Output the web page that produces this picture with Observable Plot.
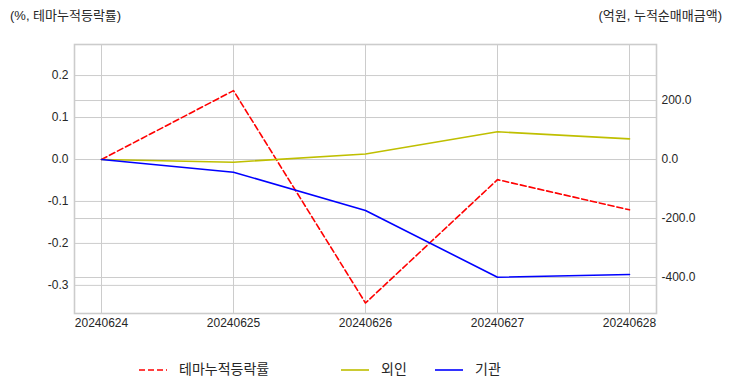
<!DOCTYPE html>
<html><head><meta charset="utf-8">
<script src="https://cdn.jsdelivr.net/npm/d3@7"></script>
<script src="https://cdn.jsdelivr.net/npm/@observablehq/plot@0.6"></script>
<style>
body{margin:0;background:#fff;}
#wrap{position:relative;width:732px;height:392px;font-family:"Liberation Sans","Noto Sans CJK KR",sans-serif;color:#262626;background:#fff;}
#wrap svg{position:absolute;left:0;top:0;}
.ttl{position:absolute;top:7px;font-size:13px;line-height:18px;white-space:nowrap;}
#legend{position:absolute;top:360px;left:0;width:732px;height:18px;font-size:14px;}
.li{position:absolute;top:0;line-height:18px;white-space:nowrap;}
.li svg{position:static !important;vertical-align:middle;margin-right:12px;}
</style></head>
<body><div id="wrap"></div>
<script>
const dates = ["20240624", "20240625", "20240626", "20240627", "20240628"];
const themeReturn = [0, 0.164, -0.342, -0.048, -0.120];
const foreign = [0, -9, 19, 94, 70];
const institution = [0, -43, -173, -399, -390];
const leftTicks = [-0.3, -0.2, -0.1, 0, 0.1, 0.2];
const rightTicks = [-400, -200, 0, 200];
const seriesNames = ["테마누적등락률", "외인", "기관"];
const seriesColors = ["#ff0000", "#bfbf00", "#0000ff"];
const leftTitle = "(%, 테마누적등락률)";
const rightTitle = "(억원, 누적순매매금액)";

const leftDomain = [-0.367, 0.274];
const rightDomain = [-522, 390];
const toLeft = d3.scaleLinear().domain(rightDomain).range(leftDomain);

const grid = "#cccccc";
const chart = Plot.plot({
  width: 732, height: 392,
  marginTop: 44, marginBottom: 79, marginLeft: 74, marginRight: 76,
  style: {fontSize: "12px", fontFamily: "Liberation Sans, Noto Sans CJK KR, sans-serif", color: "#262626", background: "#fff"},
  x: {type: "point", domain: dates, padding: 0.2},
  y: {domain: leftDomain},
  marks: [
    Plot.gridX(dates, {stroke: grid, strokeOpacity: 1, strokeWidth: 1}),
    Plot.gridY(leftTicks, {stroke: grid, strokeOpacity: 1, strokeWidth: 1}),
    Plot.gridY(rightTicks.map(d => toLeft(d)), {stroke: grid, strokeOpacity: 1, strokeWidth: 1}),
    Plot.axisY(leftTicks, {anchor: "left", tickSize: 0, tickPadding: 6, label: null, tickFormat: d => d.toFixed(1)}),
    Plot.axisY(rightTicks.map(d => toLeft(d)), {anchor: "right", tickSize: 0, tickPadding: 5, label: null, tickFormat: d => Math.round(toLeft.invert(d)).toFixed(1)}),
    Plot.axisX(dates, {tickSize: 0, tickPadding: 5, label: null}),
    Plot.line(dates, {x: d => d, y: (d, i) => themeReturn[i], stroke: seriesColors[0], strokeWidth: 1.6, strokeDasharray: "6,3"}),
    Plot.line(dates, {x: d => d, y: (d, i) => toLeft(foreign[i]), stroke: seriesColors[1], strokeWidth: 1.6}),
    Plot.line(dates, {x: d => d, y: (d, i) => toLeft(institution[i]), stroke: seriesColors[2], strokeWidth: 1.6}),
    Plot.frame({stroke: grid, strokeWidth: 1.6})
  ]
});
const wrap = document.getElementById("wrap");
wrap.appendChild(chart);

const t1 = document.createElement("div"); t1.className = "ttl"; t1.style.left = "10px"; t1.textContent = leftTitle; wrap.appendChild(t1);
const t2 = document.createElement("div"); t2.className = "ttl"; t2.style.right = "10px"; t2.textContent = rightTitle; wrap.appendChild(t2);

const legend = document.createElement("div"); legend.id = "legend"; wrap.appendChild(legend);
const legendX = [139, 341, 435];
seriesNames.forEach((name, i) => {
  const item = document.createElement("div"); item.className = "li"; item.style.left = legendX[i] + "px";
  const sw = d3.create("svg").attr("width", 28).attr("height", 6);
  sw.append("line").attr("x1", 0).attr("x2", 28).attr("y1", 3).attr("y2", 3)
    .attr("stroke", seriesColors[i]).attr("stroke-width", 1.6)
    .attr("stroke-dasharray", i === 0 ? "6,3" : null);
  item.appendChild(sw.node());
  item.appendChild(document.createTextNode(name));
  legend.appendChild(item);
});
</script>
</body></html>
